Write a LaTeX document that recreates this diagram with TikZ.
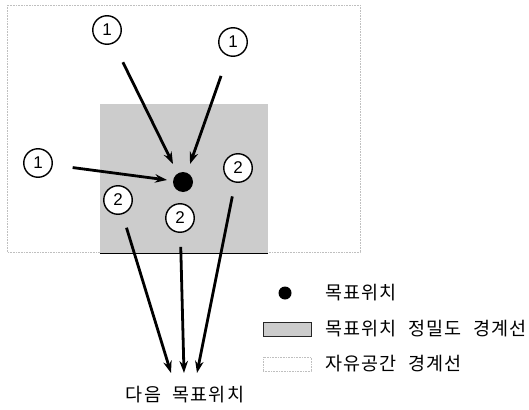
\documentclass[tikz,border=0pt]{standalone}
\usepackage{fontspec}
\setmainfont{Noto Sans CJK KR}[LetterSpace=6, WordSpace=2.2]
\newfontfamily\numfont{Liberation Sans}
\usetikzlibrary{arrows.meta}
\begin{document}
\begin{tikzpicture}[x=1pt,y=-1pt,
  txt/.style={font=\fontsize{18.5}{20}\selectfont, inner sep=0pt},
  label/.style={txt, anchor=west},
  marker/.style={circle, draw=black, line width=1.4pt, fill=white, minimum size=28.5pt, inner sep=0pt, font=\numfont\fontsize{17}{17}\selectfont},
  move/.style={line width=2.8pt, -{Stealth[length=12pt,width=8.5pt]}},
  zone/.style={fill=black!20, draw=none},
  freespace/.style={draw=black!25, line width=0.6pt, densely dotted}]
\useasboundingbox (0,0) rectangle (529,409);
% free-space boundary
\draw[freespace] (7,5) rectangle (360,252);
% target precision boundary
\fill[zone] (100,104) rectangle (268,253);
\draw[line width=0.9pt] (100,253) -- (268,253);
% target position
\node[circle, fill=black, minimum size=20pt, inner sep=0pt] (goal) at (183,182) {};
% approach markers
\node[marker] (a1) at (107,30) {1};
\node[marker] (a2) at (233,42) {1};
\node[marker] (a3) at (38,163) {1};
% departure markers
\node[marker] (b1) at (118,200) {2};
\node[marker] (b2) at (180,218) {2};
\node[marker] (b3) at (238,168) {2};
% next target
\node[txt] (next) at (185,395) {다음 목표위치};
\coordinate (n1) at (171,373);
\coordinate (n2) at (184,373);
\coordinate (n3) at (197,373);
\coordinate (g1) at (173,164);
\coordinate (g2) at (190,164);
\coordinate (g3) at (167,180);
% moves into the target
\draw[move, shorten <=21pt] (a1) -- (g1);
\draw[move, shorten <=21pt] (a2) -- (g2);
\draw[move, shorten <=20pt] (a3) -- (g3);
% moves on to the next target
\draw[move, shorten <=14pt] (b1) -- (n1);
\draw[move, shorten <=14pt] (b2) -- (n2);
\draw[move, shorten <=14pt] (b3) -- (n3);
% legend
\node[circle, fill=black, minimum size=13pt, inner sep=0pt] (lg1) at (285,293) {};
\node[label] (lt1) at (325,293) {목표위치};
\node[draw=black!85, line width=0.9pt, fill=black!20, minimum width=48pt, minimum height=14pt, inner sep=0pt] (lg2) at (287,329) {};
\node[label] (lt2) at (325,329) {목표위치 정밀도 경계선};
\node[freespace, minimum width=48pt, minimum height=14pt, inner sep=0pt] (lg3) at (287,364) {};
\node[label] (lt3) at (325,364) {자유공간 경계선};
\end{tikzpicture}
\end{document}
